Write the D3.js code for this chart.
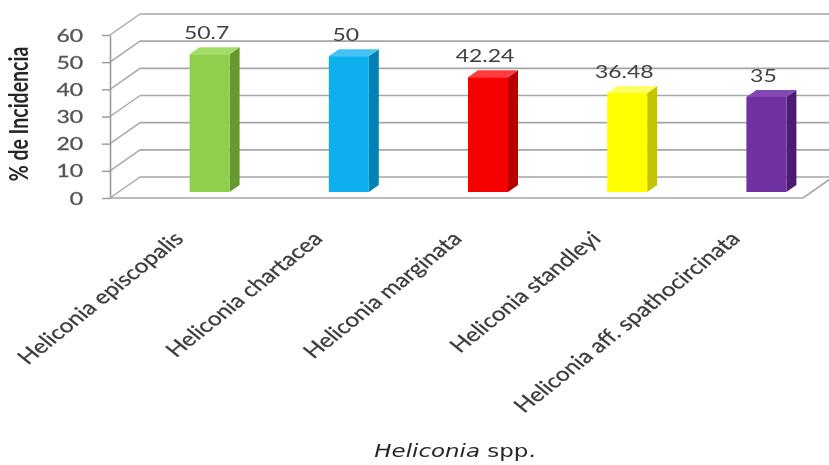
<!DOCTYPE html>
<html>
<head>
<meta charset="utf-8">
<script src="https://cdn.jsdelivr.net/npm/d3@7"></script>
<style>
  html, body { margin: 0; padding: 0; background: #ffffff; }
  svg { display: block; font-family: Lato, "DejaVu Sans", sans-serif; }
</style>
</head>
<body>
<svg id="chart" width="829" height="465"></svg>
<script>
// Incidence (%) per Heliconia species
const categories = [
  "Heliconia episcopalis",
  "Heliconia chartacea",
  "Heliconia marginata",
  "Heliconia standleyi",
  "Heliconia aff. spathocircinata"
];
const values = [50.7, 50, 42.24, 36.48, 35];
const yTicks = [0, 10, 20, 30, 40, 50, 60];
const frontColors = ["#8fcf4c", "#10b0ec", "#f70000", "#ffff00", "#7030a0"];
const sideColors  = ["#64992f", "#0683b4", "#b80000", "#c4c400", "#4c1f74"];
const topColors   = ["#a3dc66", "#44c4f4", "#ff3a3a", "#ffff66", "#8446b4"];
const yTitle = "% de Incidencia";
const xTitleItalic = "Heliconia";
const xTitleRest = " spp.";

const SX = 1.35;           // horizontal widening applied to text
const SXL = 1.25;          // widening for the slanted category labels
const svg = d3.select("#chart");

// 3D box: back wall plane, with an oblique offset toward the viewer
const depthDX = -30, depthDY = 21;
const yBack = d3.scaleLinear().domain([0, 60]).range([177, 14]);
const yFront = yBack.copy().range([177 + depthDY, 14 + depthDY]);
const x = d3.scaleBand().domain(categories).range([140, 836]).padding(0);
const backLeft = 140, backRight = 833;

// bars sit part way into the box
const barBase = 192;
const yBar = d3.scaleLinear().domain([0, 60]).range([barBase, barBase - (yBack(0) - yBack(60))]);
const barW = 40, barDX = 10, barDY = -7;

const soft = svg.append("defs").append("filter").attr("id", "soft")
  .attr("x", "-5%").attr("y", "-5%").attr("width", "110%").attr("height", "110%");
soft.append("feGaussianBlur").attr("stdDeviation", 0.45);

const g = svg.append("g").attr("filter", "url(#soft)");

const gridColor = "#a6a6a6";

// back wall gridlines
g.append("g").selectAll("line").data(yTicks).join("line")
  .attr("x1", backLeft).attr("x2", backRight)
  .attr("y1", d => yBack(d)).attr("y2", d => yBack(d))
  .attr("stroke", gridColor).attr("stroke-width", 1.6);

// side wall gridlines (front axis to back wall)
g.append("g").selectAll("line").data(yTicks).join("line")
  .attr("x1", backLeft + depthDX).attr("x2", backLeft)
  .attr("y1", d => yFront(d)).attr("y2", d => yBack(d))
  .attr("stroke", gridColor).attr("stroke-width", 1.4);

// floor outline
g.append("path")
  .attr("d", `M${backLeft + depthDX},${yFront(0)} L${backRight + depthDX},${yFront(0)} L${backRight},${yBack(0)}`)
  .attr("fill", "none").attr("stroke", gridColor).attr("stroke-width", 1.6);

// front value axis
const axis = d3.axisLeft(yFront).tickValues(yTicks).tickSize(8).tickSizeOuter(0).tickFormat(d3.format("d"));
const ax = g.append("g").attr("transform", `translate(${backLeft + depthDX},0)`).call(axis);
ax.select(".domain").attr("stroke", "#999999").attr("stroke-width", 1.6);
ax.selectAll(".tick line").attr("stroke", "#999999").attr("stroke-width", 1.4);
ax.selectAll(".tick text")
  .attr("x", -27 / SX).attr("dy", "0.36em")
  .attr("transform", `scale(${SX},1)`)
  .attr("fill", "#555555").attr("font-size", 17)
  .attr("font-family", "Lato, sans-serif")
  .attr("stroke", "#555555").attr("stroke-width", 0.3);

// bars
const bars = g.append("g").selectAll("g").data(values).join("g");
bars.each(function (v, i) {
  const sel = d3.select(this);
  const cx = x(categories[i]) + x.bandwidth() / 2;
  const x0 = cx - barW / 2, x1 = cx + barW / 2;
  const yt = yBar(v), yb = yBar(0);
  // right side face
  sel.append("path")
    .attr("d", `M${x1},${yt} L${x1 + barDX},${yt + barDY} L${x1 + barDX},${yb + barDY} L${x1},${yb} Z`)
    .attr("fill", sideColors[i]);
  // top face
  sel.append("path")
    .attr("d", `M${x0},${yt} L${x0 + barDX},${yt + barDY} L${x1 + barDX},${yt + barDY} L${x1},${yt} Z`)
    .attr("fill", topColors[i]);
  // front face
  sel.append("rect")
    .attr("x", x0).attr("y", yt).attr("width", barW).attr("height", yb - yt)
    .attr("fill", frontColors[i]);
});

// value labels
g.append("g").selectAll("text").data(values).join("text")
  .attr("transform", (v, i) => {
    const cx = x(categories[i]) + x.bandwidth() / 2 - 3;
    return `translate(${cx},${yBar(v) - 15}) scale(${SX},1)`;
  })
  .attr("text-anchor", "middle")
  .attr("font-size", 17).attr("fill", "#404040")
  .text(v => String(v));

// category labels, slanted
g.append("g").selectAll("text").data(categories).join("text")
  .attr("transform", c => {
    const ex = x(c) + x.bandwidth() / 2 - 25;
    return `translate(${ex},240) scale(${SXL},1) rotate(-45)`;
  })
  .attr("text-anchor", "end")
  .attr("font-size", 19.5).attr("fill", "#3a3a3a")
  .attr("stroke", "#3a3a3a").attr("stroke-width", 0.25)
  .text(c => c);

// value axis title
g.append("text")
  .attr("transform", `translate(28,114) scale(${SX},1) rotate(-90)`)
  .attr("text-anchor", "middle")
  .attr("font-size", 19.5).attr("font-weight", "bold").attr("fill", "#262626")
  .text(yTitle);

// category axis title
const xt = g.append("text")
  .attr("transform", `translate(455,457) scale(${SX},1)`)
  .attr("text-anchor", "middle")
  .attr("font-family", "DejaVu Sans, sans-serif")
  .attr("font-size", 17).attr("fill", "#262626");
xt.append("tspan").attr("font-style", "italic").text(xTitleItalic);
xt.append("tspan").text(xTitleRest);
</script>
</body>
</html>
